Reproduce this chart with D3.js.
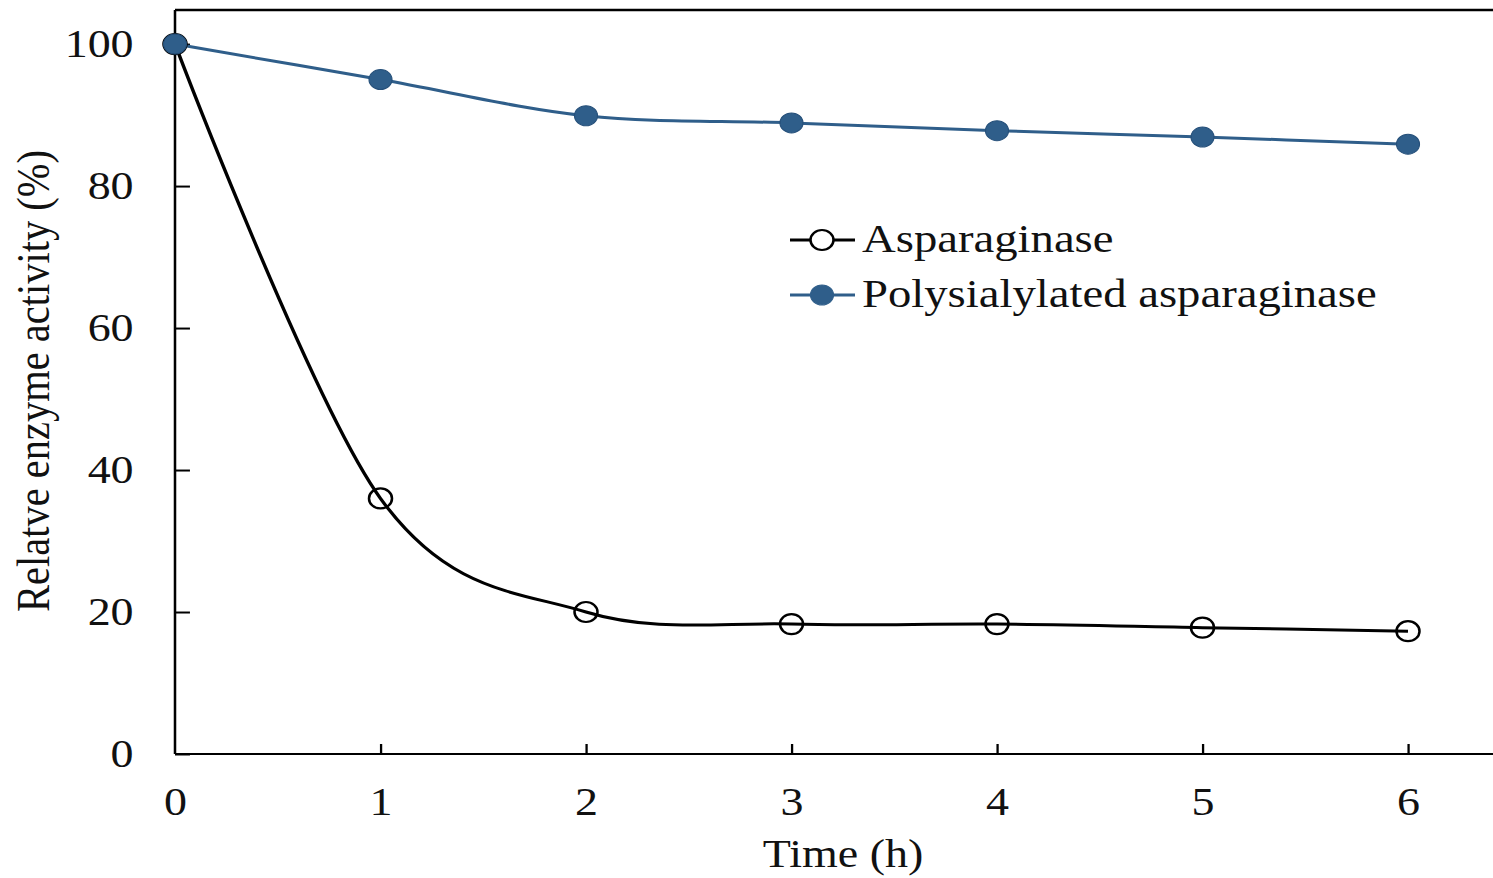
<!DOCTYPE html>
<html lang="en">
<head>
  <meta charset="UTF-8">
  <title>Relative enzyme activity over time</title>
  <script src="https://d3js.org/d3.v7.min.js"></script>
  <style>
    body {
      margin: 0;
      background-color: #fff;
    }
    svg text {
      font-family: "Liberation Serif", "Times New Roman", serif;
      fill: #111;
    }
  </style>
</head>
<body>
<svg id="chart" width="1493" height="878"></svg>

<script>
  // Data
  const hours = [0, 1, 2, 3, 4, 5, 6];
  const asparaginase = [100, 36, 20, 18.3, 18.3, 17.8, 17.3];
  const polysialylated = [100, 95, 89.9, 88.9, 87.8, 86.9, 85.9];
  const yTicks = [0, 20, 40, 60, 80, 100];
  const seriesNames = ["Asparaginase", "Polysialylated asparaginase"];

  const width = 1493;
  const height = 878;
  // the original picture is stretched sideways, so draw everything in a squeezed frame
  const sx = 1.15;
  const blue = "#2f5e8a";

  const svg = d3.select("#chart");
  const g = svg.append("g").attr("transform", `scale(${sx},1)`);

  const x = d3.scaleLinear().domain([0, 6]).range([175 / sx, 1408 / sx]);
  const y = d3.scaleLinear().domain([0, 104.8]).range([754, 10]);

  // frame lines (left, top, bottom)
  g.append("line")
    .attr("x1", x(0)).attr("x2", x(0))
    .attr("y1", y(104.8)).attr("y2", y(0))
    .attr("stroke", "#000").attr("stroke-width", 2.2);
  g.append("line")
    .attr("x1", x(0)).attr("x2", width / sx)
    .attr("y1", y(104.8)).attr("y2", y(104.8))
    .attr("stroke", "#000").attr("stroke-width", 2.4);
  g.append("line")
    .attr("x1", x(0)).attr("x2", width / sx)
    .attr("y1", y(0)).attr("y2", y(0))
    .attr("stroke", "#000").attr("stroke-width", 2.2);

  // axes
  const yAxis = g.append("g")
    .attr("transform", `translate(${x(0)},0)`)
    .call(d3.axisLeft(y).tickValues(yTicks).tickSizeInner(-13).tickSizeOuter(0).tickPadding(36));
  yAxis.select(".domain").remove();
  yAxis.selectAll(".tick line").attr("stroke", "#000").attr("stroke-width", 2);
  yAxis.selectAll(".tick text").style("font-size", "40px");

  const xAxis = g.append("g")
    .attr("transform", `translate(0,${y(0)})`)
    .call(d3.axisBottom(x).tickValues(hours).tickFormat(d3.format("d"))
      .tickSizeInner(-10).tickSizeOuter(0).tickPadding(33));
  xAxis.select(".domain").remove();
  xAxis.selectAll(".tick line").attr("stroke", "#000").attr("stroke-width", 2)
    .filter(d => d === 0).remove();
  xAxis.selectAll(".tick text").style("font-size", "40px");

  // axis titles
  g.append("text")
    .attr("x", 843 / sx)
    .attr("y", 867)
    .attr("text-anchor", "middle")
    .style("font-size", "40px")
    .text("Time (h)");

  g.append("text")
    .attr("transform", `translate(${49 / sx},381) rotate(-90)`)
    .attr("text-anchor", "middle")
    .style("font-size", "40.5px")
    .text("Relatve enzyme activity (%)");

  // lines
  const line = d3.line()
    .x((d, i) => x(hours[i]))
    .y(d => y(d))
    .curve(d3.curveCardinal.tension(0));

  g.append("path")
    .datum(asparaginase)
    .attr("d", line)
    .attr("fill", "none")
    .attr("stroke", "#000")
    .attr("stroke-width", 3);

  g.append("path")
    .datum(polysialylated)
    .attr("d", line)
    .attr("fill", "none")
    .attr("stroke", blue)
    .attr("stroke-width", 3);

  g.selectAll(".open-pt")
    .data(asparaginase)
    .enter().append("circle")
    .attr("class", "open-pt")
    .attr("cx", (d, i) => x(hours[i]))
    .attr("cy", d => y(d))
    .attr("r", 10)
    .attr("fill", "none")
    .attr("stroke", "#000")
    .attr("stroke-width", 2.2);

  g.selectAll(".fill-pt")
    .data(polysialylated)
    .enter().append("circle")
    .attr("class", "fill-pt")
    .attr("cx", (d, i) => x(hours[i]))
    .attr("cy", d => y(d))
    .attr("r", 10)
    .attr("fill", blue)
    .attr("stroke", "#26507a")
    .attr("stroke-width", 1);

  // legend
  const legend = g.append("g");
  const rowY = [240, 295];
  seriesNames.forEach((name, i) => {
    const color = i === 0 ? "#000" : blue;
    legend.append("line")
      .attr("x1", 790 / sx).attr("x2", 855 / sx)
      .attr("y1", rowY[i]).attr("y2", rowY[i])
      .attr("stroke", color).attr("stroke-width", 3);
    legend.append("circle")
      .attr("cx", 822 / sx)
      .attr("cy", rowY[i])
      .attr("r", 10)
      .attr("fill", i === 0 ? "#fff" : blue)
      .attr("stroke", i === 0 ? "#000" : blue)
      .attr("stroke-width", i === 0 ? 2.2 : 1);
    legend.append("text")
      .attr("x", 862 / sx)
      .attr("y", rowY[i] + 12)
      .style("font-size", "40.6px")
      .text(name);
  });
</script>
</body>
</html>
